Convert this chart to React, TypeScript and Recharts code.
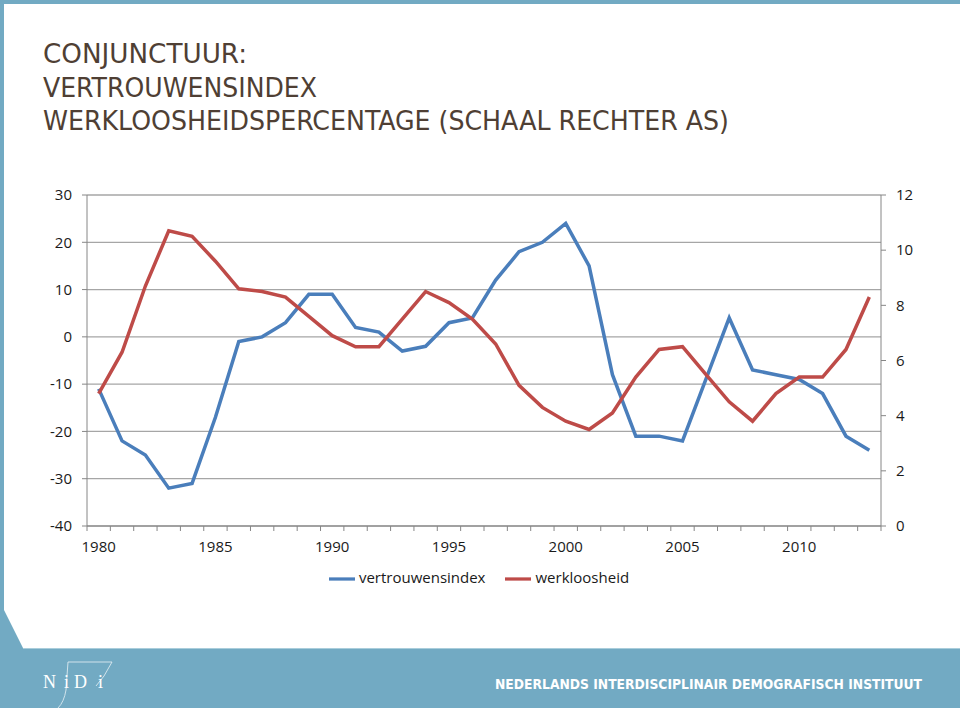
import { CartesianGrid, Legend, Line, LineChart, XAxis, YAxis } from "recharts";

const years = [
  1980, 1981, 1982, 1983, 1984, 1985, 1986, 1987, 1988, 1989, 1990, 1991, 1992, 1993, 1994, 1995, 1996,
  1997, 1998, 1999, 2000, 2001, 2002, 2003, 2004, 2005, 2006, 2007, 2008, 2009, 2010, 2011, 2012, 2013,
];
const vertrouwensindex = [
  -11, -22, -25, -32, -31, -17, -1, 0, 3, 9, 9, 2, 1, -3, -2, 3, 4, 12, 18, 20, 24, 15, -8, -21, -21, -22, -9,
  4, -7, -8, -9, -12, -21, -24,
];
const werkloosheid = [
  4.8, 6.3, 8.7, 10.7, 10.5, 9.6, 8.6, 8.5, 8.3, 7.6, 6.9, 6.5, 6.5, 7.5, 8.5, 8.1, 7.5, 6.6, 5.1, 4.3, 3.8,
  3.5, 4.1, 5.4, 6.4, 6.5, 5.5, 4.5, 3.8, 4.8, 5.4, 5.4, 6.4, 8.3,
];
const yearLabels = [1980, 1985, 1990, 1995, 2000, 2005, 2010];
const leftTicks = [-40, -30, -20, -10, 0, 10, 20, 30];
const rightTicks = [0, 2, 4, 6, 8, 10, 12];
const titleLines = ["CONJUNCTUUR:", "VERTROUWENSINDEX", "WERKLOOSHEIDSPERCENTAGE (SCHAAL RECHTER AS)"];

const data = years.map((year, i) => ({
  year,
  vertrouwensindex: vertrouwensindex[i],
  werkloosheid: werkloosheid[i],
}));

// tick marks sit between the years, labels on the years
const xTicks = [...years.map((y) => y - 0.5), years[years.length - 1] + 0.5, ...yearLabels].sort((a, b) => a - b);

const FONT = "'Open Sans', 'Liberation Sans', sans-serif";
const AXIS = "#868686";
const BAND = "#72aac3";

const XTick = ({ x, y, payload }: any) => {
  const v = payload.value;
  if (v % 1 !== 0) return <line x1={x} x2={x} y1={y} y2={y + 5} stroke={AXIS} />;
  return (
    <text x={x} y={y + 15} dy="0.71em" textAnchor="middle" fontSize={15} fill="#1a1a1a" fontFamily={FONT}>
      {v}
    </text>
  );
};

function Decoration() {
  return (
    <svg width={960} height={708} style={{ position: "absolute", left: 0, top: 0 }}>
      <polygon points="0,0 960,0 960,4 4,4 4,610 23,648 960,648 960,708 0,708" fill={BAND} />
      <line x1={23} y1={648.5} x2={960} y2={648.5} stroke="#a9cddb" strokeWidth={1} />
      {titleLines.map((t, i) => (
        <text
          key={t}
          x={43}
          y={63 + i * 33.5}
          fontSize={26}
          fill="#4f3f34"
          fontFamily="'Liberation Sans Narrow', 'DejaVu Sans Condensed', sans-serif"
          textLength={[204, 274, 686][i]}
          lengthAdjust="spacingAndGlyphs"
        >
          {t}
        </text>
      ))}
      <g fill="none" stroke="#e8f1f5" strokeWidth={0.8}>
        <polyline points="68,662 112,662 104,676 96,686" />
        <path d="M68,662 L66,690 Q64,702 58,708" />
      </g>
      <text x={43} y={688} fontSize={18} fill="#fff" fontFamily="'Liberation Serif', serif" letterSpacing={1}>
        N
      </text>
      <text x={64} y={688} fontSize={18} fill="#fff" fontFamily="'Liberation Serif', serif">
        i
      </text>
      <text x={74} y={688} fontSize={18} fill="#fff" fontFamily="'Liberation Serif', serif">
        D
      </text>
      <text x={98} y={688} fontSize={18} fill="#fff" fontFamily="'Liberation Serif', serif">
        i
      </text>
      <text
        x={495}
        y={689}
        fontSize={14.5}
        fontWeight="bold"
        fill="#fff"
        fontFamily="'Liberation Sans Narrow', 'DejaVu Sans Condensed', sans-serif"
        textLength={427}
        lengthAdjust="spacingAndGlyphs"
      >
        NEDERLANDS INTERDISCIPLINAIR DEMOGRAFISCH INSTITUUT
      </text>
    </svg>
  );
}

export default function App() {
  return (
    <div style={{ position: "absolute", left: 0, top: 0, width: 960, height: 708, background: "#fff", overflow: "hidden" }}>
      <Decoration />
      <div style={{ position: "absolute", left: 0, top: 0 }}>
        <LineChart width={960} height={600} data={data} margin={{ top: 195, right: 0, bottom: 34, left: 0 }}>
          <CartesianGrid yAxisId="left" vertical={false} stroke="#a6a6a6" strokeWidth={1.3} />
          <XAxis
            dataKey="year"
            type="number"
            domain={[1979.5, 2013.5]}
            ticks={xTicks}
            interval={0}
            tick={<XTick />}
            tickLine={false}
            tickSize={0}
            tickMargin={0}
            height={40}
            axisLine={{ stroke: AXIS }}
          />
          <YAxis
            yAxisId="left"
            domain={[-40, 30]}
            ticks={leftTicks}
            width={87}
            tickSize={5}
            tickMargin={10}
            axisLine={{ stroke: AXIS }}
            tickLine={{ stroke: AXIS }}
            tick={{ fontSize: 15, fill: "#1a1a1a", fontFamily: FONT }}
          />
          <YAxis
            yAxisId="right"
            orientation="right"
            domain={[0, 12]}
            ticks={rightTicks}
            width={79}
            tickSize={5}
            tickMargin={10}
            axisLine={{ stroke: AXIS }}
            tickLine={{ stroke: AXIS }}
            tick={{ fontSize: 15, fill: "#1a1a1a", fontFamily: FONT }}
          />
          <Line
            yAxisId="left"
            dataKey="vertrouwensindex"
            type="linear"
            stroke="#4a7ebb"
            strokeWidth={3.5}
            dot={false}
            isAnimationActive={false}
          />
          <Line
            yAxisId="right"
            dataKey="werkloosheid"
            type="linear"
            stroke="#be4b48"
            strokeWidth={3.5}
            dot={false}
            isAnimationActive={false}
          />
          <Legend
            layout="horizontal"
            verticalAlign="middle"
            align="center"
            iconType="plainline"
            iconSize={26}
            wrapperStyle={{ top: 566, left: 0, width: 978, fontFamily: FONT, fontSize: 15 }}
            formatter={(value: string) => <span style={{ color: "#1a1a1a", marginRight: 10 }}>{value}</span>}
          />
        </LineChart>
      </div>
    </div>
  );
}
